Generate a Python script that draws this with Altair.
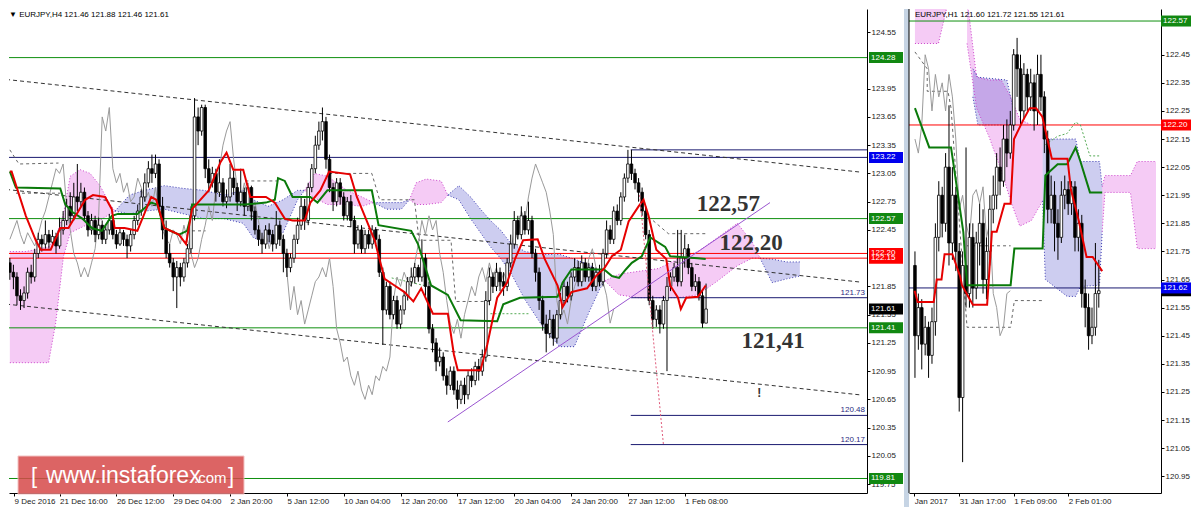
import altair as alt
import pandas as pd

FONT = "Liberation Sans"
SERIF = "Liberation Serif"

# ================= H4 panel (left) =================
h4_first_open = 122.10
h4_close = [
    122.00, 121.95, 121.75, 121.70, 121.78, 122.00, 121.95, 122.20, 122.35, 122.30,
    122.40, 122.32, 122.38, 122.28, 122.45, 122.55, 122.70, 122.60, 122.80, 122.75,
    122.85, 122.60, 122.45, 122.55, 122.40, 122.50, 122.35, 122.45, 122.55, 122.40,
    122.30, 122.42, 122.35, 122.28, 122.40, 122.55, 122.65, 122.80, 122.95, 123.10,
    123.05, 123.15, 122.70, 122.45, 122.20, 122.10, 121.95, 122.05, 121.95, 122.10,
    122.25, 122.60, 123.65, 123.50, 123.75, 123.10, 122.95, 123.05, 122.85, 122.95,
    122.75, 122.80, 123.00, 122.90, 122.75, 122.85, 122.70, 122.90, 122.65, 122.45,
    122.35, 122.30, 122.45, 122.40, 122.30, 122.50, 122.35, 122.20, 122.05, 122.15,
    122.35, 122.50, 122.70, 122.55, 122.90, 123.10, 123.35, 123.50, 123.60, 123.20,
    122.90, 122.75, 122.95, 122.80, 122.60, 122.75, 122.55, 122.30, 122.45, 122.25,
    122.40, 122.30, 122.45, 122.35, 122.00, 121.60, 121.85, 121.55, 121.70, 121.45,
    121.60, 121.75, 121.90, 121.95, 122.05, 121.95, 122.15, 121.85, 121.40, 121.25,
    121.05, 121.10, 120.90, 120.80, 120.95, 120.75, 120.65, 120.80, 120.70, 120.90,
    120.85, 121.00, 120.95, 121.10, 121.70, 121.95, 121.85, 122.00, 121.90, 121.85,
    122.10, 122.30, 122.55, 122.40, 122.60, 122.45, 122.55, 122.20, 122.00, 121.70,
    121.45, 121.35, 121.50, 121.30, 121.55, 121.70, 121.85, 121.75, 121.95, 122.05,
    121.90, 122.10, 121.95, 122.05, 121.85, 122.00, 121.90, 122.20, 122.45, 122.35,
    122.65, 122.55, 122.80, 123.00, 123.15, 123.05, 122.95, 122.85, 122.65, 122.40,
    121.70, 121.50, 121.60, 121.45, 121.70, 121.85, 121.95, 122.05, 121.90, 122.15,
    122.25, 122.05, 121.85, 121.90, 121.75, 121.46, 121.61]
h4_high = [
    122.15, 122.08, 122.00, 121.82, 121.85, 122.05, 122.08, 122.25, 122.42, 122.40,
    122.55, 122.45, 122.45, 122.42, 122.58, 122.65, 122.78, 122.85, 122.95, 123.15,
    122.95, 122.90, 122.65, 122.62, 122.60, 122.58, 122.55, 122.50, 122.62, 122.60,
    122.45, 122.48, 122.45, 122.40, 122.45, 122.60, 122.72, 122.88, 123.05, 123.18,
    123.25, 123.25, 123.20, 122.80, 122.55, 122.30, 122.15, 122.12, 122.10, 122.15,
    122.30, 122.70, 123.85, 123.75, 123.78, 123.78, 123.20, 123.12, 123.10, 123.20,
    123.00, 122.88, 123.15, 123.08, 122.95, 123.10, 122.90, 122.95, 122.92, 122.70,
    122.50, 122.42, 122.50, 122.52, 122.45, 122.65, 122.55, 122.40, 122.25, 122.20,
    122.40, 122.58, 122.80, 122.78, 122.95, 123.15, 123.45, 123.60, 123.75, 123.65,
    123.25, 122.95, 123.00, 123.00, 122.85, 122.80, 122.82, 122.60, 122.50, 122.50,
    122.45, 122.45, 122.50, 122.48, 122.40, 122.05, 121.90, 121.90, 121.75, 121.75,
    121.65, 121.80, 121.95, 122.05, 122.10, 122.08, 122.35, 122.20, 121.90, 121.45,
    121.30, 121.20, 121.15, 120.98, 121.00, 121.00, 120.85, 120.85, 120.88, 120.95,
    120.98, 121.05, 121.08, 121.18, 121.80, 122.05, 122.00, 122.10, 122.05, 122.00,
    122.15, 122.40, 122.65, 122.60, 122.70, 122.65, 122.75, 122.60, 122.25, 122.05,
    121.75, 121.55, 121.60, 121.55, 121.60, 121.78, 121.92, 121.90, 122.00, 122.15,
    122.12, 122.18, 122.15, 122.10, 122.10, 122.05, 122.08, 122.25, 122.55, 122.50,
    122.70, 122.72, 122.85, 123.05, 123.30, 123.30, 123.10, 123.00, 122.90, 122.70,
    122.45, 121.75, 121.65, 121.65, 121.75, 121.95, 122.00, 122.10, 122.45, 122.45,
    122.40, 122.30, 122.10, 121.98, 121.95, 121.80, 121.88]
h4_low = [
    121.92, 121.82, 121.65, 121.60, 121.62, 121.72, 121.88, 121.90, 122.15, 122.22,
    122.25, 122.25, 122.28, 122.20, 122.25, 122.40, 122.50, 122.52, 122.55, 122.65,
    122.70, 122.55, 122.38, 122.40, 122.32, 122.35, 122.30, 122.30, 122.40, 122.35,
    122.25, 122.28, 122.28, 122.15, 122.22, 122.35, 122.50, 122.60, 122.75, 122.90,
    122.95, 123.00, 122.65, 122.35, 122.15, 122.05, 121.80, 121.62, 121.85, 121.90,
    122.05, 122.20, 122.55, 123.35, 123.45, 123.00, 122.85, 122.90, 122.75, 122.80,
    122.70, 122.68, 122.75, 122.82, 122.65, 122.70, 122.60, 122.65, 122.55, 122.40,
    122.28, 122.20, 122.25, 122.32, 122.22, 122.25, 122.28, 122.00, 121.95, 122.00,
    122.10, 122.30, 122.45, 122.45, 122.50, 122.85, 123.05, 123.30, 123.40, 123.10,
    122.85, 122.65, 122.70, 122.72, 122.55, 122.55, 122.48, 122.20, 122.25, 122.20,
    122.20, 122.25, 122.25, 122.30, 121.95, 121.23, 121.55, 121.50, 121.50, 121.40,
    121.40, 121.55, 121.70, 121.85, 121.88, 121.90, 121.90, 121.75, 121.35, 121.15,
    120.95, 121.00, 120.85, 120.70, 120.75, 120.70, 120.55, 120.60, 120.60, 120.65,
    120.78, 120.80, 120.85, 120.90, 121.05, 121.65, 121.78, 121.80, 121.80, 121.75,
    121.80, 122.05, 122.25, 122.35, 122.35, 122.40, 122.40, 122.15, 121.90, 121.60,
    121.38, 121.15, 121.30, 121.22, 121.25, 121.50, 121.65, 121.68, 121.70, 121.90,
    121.85, 121.85, 121.90, 121.90, 121.80, 121.80, 121.85, 121.85, 122.15, 122.30,
    122.30, 122.50, 122.50, 122.75, 122.95, 122.98, 122.88, 122.75, 122.60, 122.35,
    121.65, 121.40, 121.42, 121.35, 121.40, 120.95, 121.80, 121.90, 121.85, 121.85,
    122.05, 121.98, 121.80, 121.80, 121.70, 121.41, 121.46]

h4_tenkan = [
    (0, 123.07), (0.5, 123.07), (4.5, 122.60), (7.3, 122.34), (8.7, 122.24), (11.5, 122.24),
    (14.2, 122.47), (16.5, 122.47), (21.2, 122.77), (23.4, 122.82), (26.8, 122.80), (28.7, 122.67),
    (29.5, 122.47), (32.3, 122.47), (35.9, 122.44), (39.8, 122.80), (41.2, 122.77), (43.5, 122.47),
    (47.6, 122.40), (49.6, 122.30), (51.3, 122.67), (56.0, 122.87), (59.3, 123.17), (61.0, 123.27),
    (62.9, 123.09), (65.7, 123.09), (67.7, 122.80), (72.1, 122.80), (74.6, 122.74), (77.4, 122.57),
    (79.6, 122.55), (83.0, 122.55), (84.6, 122.74), (87.4, 122.87), (89.9, 123.07), (95.8, 123.04),
    (97.7, 122.80), (99.9, 122.60), (102.7, 122.34), (105.5, 121.93), (108.3, 121.86), (111.1, 121.79),
    (113.6, 121.69), (115.8, 121.83), (119.1, 121.56), (123.3, 121.56), (125.0, 121.13), (126.1, 120.96),
    (132.5, 120.96), (134.4, 121.23), (137.2, 121.73), (140.0, 121.89), (142.2, 122.14), (144.5, 122.34),
    (148.6, 122.35), (150.6, 122.14), (154.2, 121.86), (155.6, 121.63), (158.1, 121.79), (162.5, 121.83),
    (165.0, 121.96), (167.3, 122.04), (169.5, 122.17), (172.0, 122.24), (174.2, 122.54), (177.0, 122.70),
    (178.4, 122.77), (179.8, 122.60), (182.0, 122.24), (184.8, 122.14), (185.9, 121.86), (188.1, 121.73),
    (188.9, 121.61), (190.4, 121.73), (193.7, 121.74), (195.9, 121.86)]
h4_kijun = [
    (0, 123.07), (1.7, 122.90), (14.2, 122.89), (15.6, 122.72), (17.6, 122.64), (20.4, 122.57),
    (23.1, 122.47), (25.9, 122.44), (28.7, 122.60), (30.4, 122.62), (35.9, 122.62), (39.8, 122.74),
    (41.5, 122.72), (43.5, 122.47), (47.6, 122.40), (49.9, 122.44), (51.0, 122.60), (51.3, 122.72),
    (66.3, 122.72), (72.1, 122.74), (74.6, 122.77), (75.5, 123.00), (77.4, 122.97), (79.6, 122.80),
    (84.6, 122.80), (86.6, 122.74), (89.4, 122.87), (101.9, 122.87), (103.8, 122.50), (113.0, 122.44),
    (114.9, 122.30), (118.6, 121.86), (123.3, 121.76), (126.9, 121.49), (137.2, 121.48), (138.9, 121.66),
    (143.6, 121.73), (154.2, 121.74), (155.6, 121.89), (158.1, 122.03), (167.3, 122.03), (169.5, 121.96),
    (171.5, 121.94), (173.4, 122.03), (175.1, 122.10), (177.9, 122.17), (180.3, 122.37), (184.5, 122.27),
    (185.9, 122.17), (193.7, 122.15), (195.9, 122.14)]

h4_cloud_pink = [
    [(0, 122.22, 121.04), (4.5, 122.22, 121.04), (10.9, 122.27, 121.04), (12.9, 122.37, 121.46),
     (15.1, 122.62, 122.17), (17.0, 123.02, 122.42), (19.8, 123.09, 122.47), (22.6, 123.05, 122.52),
     (25.4, 122.92, 122.55), (28.2, 122.72, 122.62), (29.6, 122.65, 122.65)],
    [(83.0, 122.87, 122.87), (85.8, 123.05, 122.79), (89.4, 123.02, 122.72), (94.9, 122.87, 122.72),
     (99.1, 122.80, 122.70), (102.4, 122.74, 122.74)],
    [(112.5, 122.77, 122.77), (114.4, 122.95, 122.72), (117.2, 122.99, 122.72), (121.4, 122.97, 122.74),
     (123.3, 122.82, 122.82)],
    [(167.5, 121.91, 121.91), (171.5, 121.98, 121.76), (177.0, 122.01, 121.73), (182.6, 122.04, 121.73),
     (188.1, 122.14, 121.73), (193.7, 122.22, 121.76), (199.3, 122.37, 121.91), (204.8, 122.52, 122.07),
     (209.0, 122.32, 122.15), (211.2, 122.15, 122.15)],
]
h4_cloud_blue = [
    [(29.6, 122.65, 122.65), (33.7, 122.82, 122.62), (37.9, 122.87, 122.65), (43.5, 122.92, 122.67),
     (49.0, 122.89, 122.62), (54.6, 122.87, 122.57), (60.2, 122.82, 122.57), (65.7, 122.87, 122.52),
     (68.5, 122.77, 122.37), (72.7, 122.70, 122.30), (76.9, 122.77, 122.42), (81.0, 122.87, 122.77),
     (83.0, 122.87, 122.87)],
    [(102.4, 122.74, 122.74), (106.1, 122.74, 122.67), (110.2, 122.74, 122.67), (112.5, 122.77, 122.77)],
    [(123.3, 122.82, 122.82), (126.4, 122.92, 122.77), (129.7, 122.80, 122.57), (132.5, 122.67, 122.42),
     (135.3, 122.55, 122.27), (138.1, 122.45, 122.15), (140.8, 122.32, 122.01), (145.0, 122.22, 121.71),
     (150.6, 122.19, 121.39), (154.8, 122.19, 121.21), (158.9, 122.14, 121.21), (163.1, 122.08, 121.58),
     (165.9, 122.01, 121.81), (167.5, 121.91, 121.91)],
    [(211.2, 122.15, 122.15), (214.6, 122.14, 121.89), (218.7, 122.11, 121.93), (222.4, 122.11, 121.96)],
]

h4_levels = [124.28, 123.22, 122.57, 122.20, 122.15, 121.41, 119.81]
h4_level_kind = ["green", "navy", "green", "red", "red", "green", "green"]
h4_rays = [123.30, 121.73, 120.48, 120.17]
h4_ray_labels = ["", "121.73", "120.48", "120.17"]
h4_ray_start = 174.8
h4_channel = [
    [(-1.06, 124.048), (239.9, 123.062)],
    [(-1.06, 122.880), (239.9, 121.894)],
    [(-1.06, 121.662), (239.9, 120.696)],
]
h4_support = [(123.3, 120.41), (214.0, 122.74)]
h4_target = [(177.3, 122.82), (184.0, 120.17)]
h4_aux_gray = [
    [(0, 123.30), (2.56, 123.15), (13.7, 123.16)],
    [(1.73, 122.84), (14.2, 122.84)],
    [(49.6, 122.44), (55.1, 122.44)],
    [(66.3, 122.97), (75.5, 122.97)],
    [(89.9, 123.05), (101.9, 123.05), (104.1, 122.77), (113.9, 122.77), (115.2, 122.34),
     (124.2, 122.34), (125.5, 121.69), (135.3, 121.69)],
    [(179.8, 122.59), (185.4, 122.41), (196.5, 122.41)],
]
h4_aux_green = [
    [(107.5, 121.94), (116.6, 121.86)],
    [(135.3, 121.56), (146.4, 121.56)],
]
h4_notes = ["122,57", "122,20", "121,41"]
h4_note_bar = [202.3, 208.7, 214.9]
h4_note_price = [122.72, 122.31, 121.27]
h4_mark_bar = [211.0]
h4_mark_price = [120.72]
h4_tags = [124.28, 123.22, 122.57, 122.20, 122.15, 121.61, 121.41, 119.81]
h4_tag_kind = ["green", "blue", "green", "red", "red", "black", "green", "green"]
h4_tag_text = ["124.28", "123.22", "122.57", "122.20", "122.15", "121.61", "121.41", "119.81"]
h4_yticks = [124.55, 123.95, 123.65, 123.35, 123.05, 122.75, 122.45, 121.85, 121.55,
             121.25, 120.95, 120.65, 120.35, 120.05, 119.75]
h4_xtick_bar = [1.2, 14, 30, 46, 62, 78, 94, 110, 126, 142, 158, 174, 190]
h4_xtick_label = ["9 Dec 2016", "21 Dec 16:00", "26 Dec 12:00", "29 Dec 04:00", "2 Jan 20:00",
                  "5 Jan 12:00", "10 Jan 04:00", "12 Jan 20:00", "17 Jan 12:00", "20 Jan 04:00",
                  "24 Jan 20:00", "27 Jan 12:00", "1 Feb 08:00"]
h4_title = "\u25BC EURJPY,H4  121.46 121.88 121.46 121.61"

# ================= H1 panel (right) =================
h1_first_open = 121.70
h1_close = [
    121.45, 121.55, 121.42, 121.48, 121.38, 121.50, 121.80, 121.95, 121.85, 122.05,
    121.78, 121.95, 121.75, 121.23, 121.70, 121.60, 121.80, 121.62, 121.78, 121.85,
    121.65, 121.75, 121.90, 121.95, 122.05, 122.00, 122.15, 122.10, 122.20, 122.45,
    122.40, 122.25, 122.38, 122.30, 122.35, 122.25, 122.38, 122.30, 122.15, 121.90,
    121.95, 121.85, 121.80, 121.95, 121.97, 121.92, 121.98, 121.80, 121.85, 121.60,
    121.55, 121.45, 121.48, 121.60, 121.61]
h1_high = [
    121.75, 121.60, 121.58, 121.52, 121.50, 121.55, 121.85, 122.00, 121.98, 122.10,
    122.27, 122.05, 121.98, 121.78, 121.75, 122.12, 121.85, 121.85, 121.82, 121.92,
    121.90, 121.80, 121.95, 122.02, 122.10, 122.12, 122.20, 122.22, 122.25, 122.47,
    122.51, 122.45, 122.42, 122.40, 122.40, 122.38, 122.45, 122.45, 122.32, 122.18,
    122.02, 122.00, 121.90, 122.00, 122.02, 122.00, 122.00, 122.00, 121.90, 121.88,
    121.65, 121.60, 121.55, 121.78, 121.72]
h1_low = [
    121.30, 121.40, 121.33, 121.38, 121.30, 121.35, 121.45, 121.75, 121.80, 121.82,
    121.70, 121.72, 121.68, 121.18, 121.00, 121.55, 121.55, 121.55, 121.58, 121.70,
    121.60, 121.58, 121.70, 121.85, 121.90, 121.95, 121.98, 122.05, 122.08, 122.18,
    122.30, 122.20, 122.22, 122.25, 122.25, 122.18, 122.20, 122.25, 122.10, 121.85,
    121.85, 121.75, 121.72, 121.78, 121.90, 121.88, 121.88, 121.75, 121.75, 121.55,
    121.48, 121.40, 121.42, 121.45, 121.55]
h1_tenkan = [
    (-0.1, 121.61), (0.8, 121.57), (5.5, 121.57), (6.4, 121.65), (7.8, 121.65), (8.7, 121.74),
    (11.0, 121.74), (13.3, 121.66), (13.8, 121.63), (17.0, 121.56), (21.2, 121.56), (22.6, 121.82),
    (24.0, 121.82), (26.3, 121.92), (28.1, 121.92), (29.1, 122.15), (31.9, 122.22), (33.7, 122.26),
    (35.6, 122.26), (37.4, 122.23), (40.2, 122.08), (44.8, 122.08), (45.8, 121.97), (48.1, 121.86),
    (50.4, 121.73), (52.2, 121.73), (55.0, 121.68)]
h1_kijun = [
    (0, 122.26), (4.2, 122.12), (10.6, 122.12), (14.2, 121.82), (15.3, 121.63), (28.1, 121.63),
    (29.2, 121.76), (37.5, 121.76), (38.3, 122.02), (41.9, 122.06), (44.7, 122.06), (47.2, 122.12),
    (48.6, 122.07), (51.4, 121.96), (55.0, 121.96)]
h1_cloud_pink = [
    [(0, 122.70, 122.49), (6.9, 122.70, 122.49), (9.4, 122.70, 122.62)],
    [(15.3, 122.65, 122.49), (18.1, 122.37, 122.26), (21.7, 122.36, 122.16), (25.3, 122.36, 122.04),
     (28.1, 122.30, 121.93), (30.8, 122.22, 121.84), (34.2, 122.20, 121.86), (37.5, 122.20, 121.93)],
    [(55.0, 121.98, 121.82), (55.8, 122.02, 121.96), (63.3, 122.02, 121.96), (65.3, 122.07, 121.76),
     (70.8, 122.07, 121.76)],
]
h1_cloud_blue = [
    [(17.0, 122.40, 122.30), (18.5, 122.37, 122.20), (27.0, 122.36, 122.20), (29.0, 122.25, 122.20)],
    [(37.5, 122.205, 121.93), (38.3, 122.15, 121.65), (44.7, 122.15, 121.59), (47.2, 122.15, 121.59),
     (48.6, 122.07, 121.625), (54.2, 122.07, 121.63), (55.0, 121.98, 121.82)],
]
h1_aux_gray = [
    [(0, 122.46), (3.6, 122.40), (3.6, 122.32), (9.7, 122.32), (10.6, 122.26), (15.3, 121.48),
     (28.1, 121.48), (29.2, 121.575), (37.8, 121.575)],
    [(15.3, 121.77), (28.1, 121.77)],
]
h1_aux_green = [
    [(38.3, 122.13), (41.9, 122.16), (44.7, 122.17), (47.2, 122.21), (48.6, 122.20),
     (51.4, 122.09), (54.2, 122.09)],
]
h1_levels = [122.57, 122.20, 121.62]
h1_level_kind = ["green", "red", "navy"]
h1_tags = [121.61, 121.62, 122.57, 122.20]
h1_tag_kind = ["black", "blue", "green", "red"]
h1_tag_text = ["", "121.62", "122.57", "122.20"]
h1_yticks = [120.95, 121.05, 121.15, 121.25, 121.35, 121.45, 121.55, 121.65, 121.75,
             121.85, 121.95, 122.05, 122.15, 122.25, 122.35, 122.45]
h1_xtick_bar = [-0.2, 13, 29, 45]
h1_xtick_label = ["Jan 2017", "31 Jan 17:00", "1 Feb 09:00", "2 Feb 01:00"]
h1_title = "EURJPY,H1  121.60 121.72 121.55 121.61"

# ================= styles =================
LINE_COLOR = {"green": "#0f8f0f", "navy": "#1a1a70", "red": "#ff0000"}
TAG_COLOR = {"green": "#118811", "blue": "#0000ee", "red": "#ff0000", "black": "#000000"}
CANDLE_FILL = {"up": "#ffffff", "down": "#000000"}
PINK_FILL, BLUE_FILL = "#e060e0", "#4646c8"
PINK_EDGE, BLUE_EDGE = "#cc44cc", "#3a3ab0"
H = 484


# ================= frames =================
def candle_frame(first_open, close, high, low):
    opens = [first_open] + list(close[:-1])
    dirs = ["up" if c >= o else "down" for o, c in zip(opens, close)]
    return pd.DataFrame({
        "bar": list(range(len(close))), "open": opens, "close": close,
        "high": high, "low": low, "fill": [CANDLE_FILL[d] for d in dirs],
    })


def pts_frame(points):
    return pd.DataFrame(points, columns=["bar", "price"])


def poly_frame(polys):
    rows = []
    for pid, pts in enumerate(polys):
        for k, (b, p) in enumerate(pts):
            rows.append({"id": pid, "k": k, "bar": b, "price": p})
    return pd.DataFrame(rows)


def cloud_frame(segs):
    rows = []
    for sid, pts in enumerate(segs):
        for b, u, lo in pts:
            rows.append({"seg": sid, "bar": b, "up": u, "lo": lo})
    return pd.DataFrame(rows)


def chikou_frame(close):
    return pd.DataFrame({"bar": list(range(len(close) - 26)), "price": close[26:]})


def label_expr(vals, labels):
    expr = "''"
    for v, t in reversed(list(zip(vals, labels))):
        expr = f"abs(datum.value - ({v})) < 0.01 ? '{t}' : ({expr})"
    return expr


ONE = pd.DataFrame({"z": [0]})


def build_panel(cfg):
    xs = alt.Scale(domain=cfg["xdom"], nice=False, zero=False)
    ys = alt.Scale(domain=cfg["ydom"], nice=False, zero=False)
    ax_x = alt.Axis(values=cfg["xticks"], labelExpr=label_expr(cfg["xticks"], cfg["xlabels"]),
                    orient="bottom", grid=False, title=None, domainColor="#000", tickColor="#000",
                    tickSize=3, labelAlign="left", labelBaseline="top", labelPadding=1,
                    labelFontSize=8, labelFont=FONT, labelColor="#222", labelOverlap=False,
                    labelFlush=False, labelBound=False)
    ax_y = alt.Axis(values=cfg["yticks"], format=".2f", orient="right", grid=False, title=None,
                    domainColor="#000", tickColor="#000", tickSize=3, labelPadding=1,
                    labelFontSize=8, labelFont=FONT, labelColor="#222", labelOverlap=False,
                    labelFlush=False, labelBound=False)

    def X(f):
        return alt.X(f"{f}:Q", scale=xs, axis=ax_x, title=None)

    def Y(f):
        return alt.Y(f"{f}:Q", scale=ys, axis=ax_y, title=None)

    L = []
    # cloud
    pink = cloud_frame(cfg["pink"])
    blue = cloud_frame(cfg["blue"])
    for df, fill, op in [(pink, PINK_FILL, 0.33), (blue, BLUE_FILL, 0.27)]:
        L.append(alt.Chart(df).mark_area(color=fill, opacity=op, clip=True).encode(
            x=X("bar"), y=Y("up"), y2="lo", detail="seg:N"))
    for df, col in [(pink, PINK_EDGE), (blue, BLUE_EDGE)]:
        for f in ["up", "lo"]:
            L.append(alt.Chart(df).mark_line(color=col, strokeDash=[1, 2], strokeWidth=1, clip=True).encode(
                x=X("bar"), y=Y(f), detail="seg:N"))
    # horizontal levels
    lev = pd.DataFrame({"price": cfg["levels"], "col": [LINE_COLOR[k] for k in cfg["level_kind"]]})
    L.append(alt.Chart(lev).mark_rule(strokeWidth=1).encode(
        y=Y("price"), color=alt.Color("col:N", scale=None)))
    if cfg.get("rays"):
        rays = pd.DataFrame({"price": cfg["rays"], "lbl": cfg["ray_labels"],
                             "b1": [cfg["ray_start"]] * len(cfg["rays"]),
                             "b2": [cfg["xdom"][1] + 5] * len(cfg["rays"])})
        L.append(alt.Chart(rays).mark_rule(color="#1a1a70", strokeWidth=1, clip=True).encode(
            x=X("b1"), x2="b2", y=Y("price")))
        L.append(alt.Chart(rays).mark_text(align="right", baseline="bottom", dy=-1, fontSize=8,
                                           font=FONT, color="#2a2a80").encode(
            x=alt.value(cfg["w"] - 2), y=Y("price"), text="lbl:N"))
    # channel lines
    if cfg.get("channel"):
        L.append(alt.Chart(poly_frame(cfg["channel"])).mark_line(
            color="#333", strokeDash=[4, 3], strokeWidth=1, clip=True).encode(
            x=X("bar"), y=Y("price"), detail="id:N", order="k:Q"))
    # auxiliary dashed indicator lines
    L.append(alt.Chart(poly_frame(cfg["aux_gray"])).mark_line(
        color="#666", strokeDash=[3, 3], strokeWidth=1, clip=True).encode(
        x=X("bar"), y=Y("price"), detail="id:N", order="k:Q"))
    L.append(alt.Chart(poly_frame(cfg["aux_green"])).mark_line(
        color="#55aa55", strokeDash=[2, 2], strokeWidth=1, clip=True).encode(
        x=X("bar"), y=Y("price"), detail="id:N", order="k:Q"))
    # chikou
    L.append(alt.Chart(chikou_frame(cfg["close"])).mark_line(
        color="#9a9a9a", strokeWidth=1, clip=True).encode(x=X("bar"), y=Y("price")))
    # candles
    cdf = candle_frame(cfg["open0"], cfg["close"], cfg["high"], cfg["low"])
    L.append(alt.Chart(cdf).mark_rule(color="#000", strokeWidth=1, clip=True).encode(
        x=X("bar"), y=Y("low"), y2="high"))
    L.append(alt.Chart(cdf).mark_bar(size=2.6, stroke="#000", strokeWidth=0.8, clip=True,
                                     orient="vertical").encode(
        x=X("bar"), y=Y("open"), y2="close", fill=alt.Fill("fill:N", scale=None)))
    # tenkan / kijun
    L.append(alt.Chart(pts_frame(cfg["kijun"])).mark_line(color="#0a7a0a", strokeWidth=2, clip=True).encode(
        x=X("bar"), y=Y("price")))
    L.append(alt.Chart(pts_frame(cfg["tenkan"])).mark_line(color="#e60000", strokeWidth=2, clip=True).encode(
        x=X("bar"), y=Y("price")))
    # drawn objects
    if cfg.get("support"):
        L.append(alt.Chart(pts_frame(cfg["support"])).mark_line(color="#9a55d0", strokeWidth=1, clip=True).encode(
            x=X("bar"), y=Y("price")))
        L.append(alt.Chart(pts_frame(cfg["target"])).mark_line(
            color="#e05a7a", strokeWidth=1, strokeDash=[2, 2], clip=True).encode(x=X("bar"), y=Y("price")))
        notes = pd.DataFrame({"bar": cfg["note_bar"], "price": cfg["note_price"], "t": cfg["notes"]})
        L.append(alt.Chart(notes).mark_text(font=SERIF, fontSize=23, fontWeight="bold", color="#333",
                                            align="center", baseline="middle").encode(
            x=X("bar"), y=Y("price"), text="t:N"))
        mk = pd.DataFrame({"bar": cfg["mark_bar"], "price": cfg["mark_price"]})
        L.append(alt.Chart(mk).mark_text(text="!", font=FONT, fontSize=12, fontWeight="bold", color="#333",
                                         align="center", baseline="middle").encode(x=X("bar"), y=Y("price")))
    # frame line (right panel left border)
    if cfg.get("left_border"):
        L.append(alt.Chart(ONE).mark_rule(color="#000", strokeWidth=1).encode(
            x=alt.value(0), y=alt.value(0), y2=alt.value(H)))
    # price tags on the axis
    tags = pd.DataFrame({"price": cfg["tags"], "col": [TAG_COLOR[k] for k in cfg["tag_kind"]],
                         "lbl": cfg["tag_text"]})
    L.append(alt.Chart(tags).mark_bar(orient="horizontal", size=11).encode(
        y=Y("price"), x=alt.value(cfg["tag_x"][0]), x2=alt.value(cfg["tag_x"][1]),
        color=alt.Color("col:N", scale=None)))
    L.append(alt.Chart(tags).mark_text(align="left", baseline="middle", fontSize=8, font=FONT,
                                       color="#ffffff").encode(
        y=Y("price"), x=alt.value(cfg["tag_x"][0] + 2), text="lbl:N"))
    # title
    L.append(alt.Chart(ONE).mark_text(text=cfg["title"], align="left", baseline="top", fontSize=8,
                                      font=FONT, color="#000").encode(x=alt.value(cfg["title_x"]), y=alt.value(2)))
    return L


left_cfg = dict(
    xdom=[1.17, 239.9], ydom=[119.709, 124.743], w=858,
    xticks=h4_xtick_bar, xlabels=h4_xtick_label, yticks=h4_yticks,
    pink=h4_cloud_pink, blue=h4_cloud_blue, levels=h4_levels, level_kind=h4_level_kind,
    rays=h4_rays, ray_labels=h4_ray_labels, ray_start=h4_ray_start, channel=h4_channel,
    aux_gray=h4_aux_gray, aux_green=h4_aux_green, close=h4_close, high=h4_high, low=h4_low,
    open0=h4_first_open, tenkan=h4_tenkan, kijun=h4_kijun, support=h4_support, target=h4_target,
    notes=h4_notes, note_bar=h4_note_bar, note_price=h4_note_price,
    mark_bar=h4_mark_bar, mark_price=h4_mark_price,
    tags=h4_tags, tag_kind=h4_tag_kind, tag_text=h4_tag_text, tag_x=(860, 894),
    title=h4_title, title_x=0,
)
right_cfg = dict(
    xdom=[-0.28, 70.8], ydom=[120.908, 122.595], w=252,
    xticks=h1_xtick_bar, xlabels=h1_xtick_label, yticks=h1_yticks,
    pink=h1_cloud_pink, blue=h1_cloud_blue, levels=h1_levels, level_kind=h1_level_kind,
    aux_gray=h1_aux_gray, aux_green=h1_aux_green, close=h1_close, high=h1_high, low=h1_low,
    open0=h1_first_open, tenkan=h1_tenkan, kijun=h1_kijun, left_border=True,
    tags=h1_tags, tag_kind=h1_tag_kind, tag_text=h1_tag_text, tag_x=(252, 282),
    title=h1_title, title_x=6,
)

left_layers = build_panel(left_cfg)
# watermark and window separator (decorations)
left_layers.append(alt.Chart(ONE).mark_rect(color="#d64a4a", opacity=0.85, stroke="#f0b8b8",
                                            strokeWidth=1).encode(
    x=alt.value(9), x2=alt.value(235), y=alt.value(447), y2=alt.value(485)))
for txt, xx, fs in [("[", 22, 22), ("www.instaforex", 37, 23), (".com", 185, 15), ("]", 219, 22)]:
    left_layers.append(alt.Chart(ONE).mark_text(text=txt, align="left", baseline="alphabetic", font=FONT,
                                                fontSize=fs, color="#ffffff").encode(
        x=alt.value(xx), y=alt.value(474)))
left_layers.append(alt.Chart(ONE).mark_rect(color="#c6d4e4").encode(
    x=alt.value(895), x2=alt.value(900), y=alt.value(0), y2=alt.value(498)))

left = alt.layer(*left_layers).properties(width=858, height=H)
right = alt.layer(*build_panel(right_cfg)).properties(width=252, height=H)

chart = (alt.hconcat(left, right, spacing=42, bounds="flush")
         .properties(padding=0, background="#ffffff")
         .configure_view(strokeWidth=0))

chart.save("out.html", embed_options={"renderer": "svg", "actions": False})
